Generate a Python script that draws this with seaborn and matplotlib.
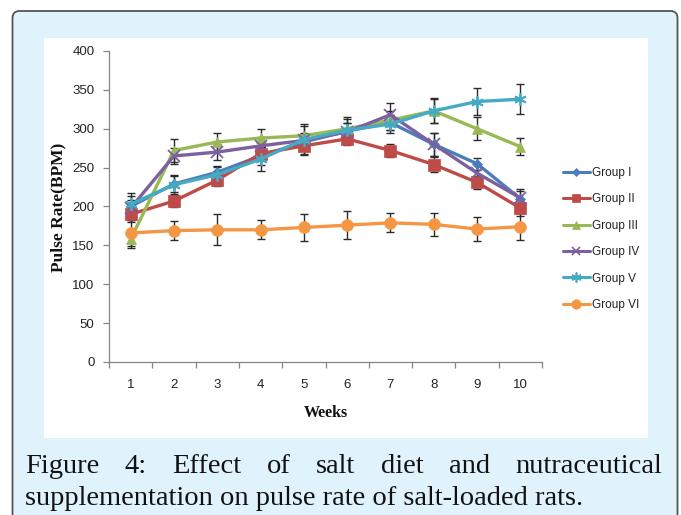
import matplotlib
matplotlib.use("Agg")
import matplotlib.pyplot as plt
import matplotlib.transforms as mtrans
from matplotlib.patches import FancyBboxPatch, Rectangle
from matplotlib.lines import Line2D
import seaborn as sns
import pandas as pd

# ---------------- data ----------------
weeks = [1, 2, 3, 4, 5, 6, 7, 8, 9, 10]
group_names = ["Group I", "Group II", "Group III", "Group IV", "Group V", "Group VI"]
group_1 = [200, 229, 244, 265, 283, 297, 308, 280, 255, 210]
group_2 = [190, 207, 234, 268, 278, 287, 272, 254, 231, 198]
group_3 = [158, 272, 283, 288, 291, 300, 311, 323, 300, 277]
group_4 = [198, 265, 270, 278, 285, 296, 318, 280, 243, 211]
group_5 = [203, 228, 241, 261, 286, 298, 306, 323, 335, 338]
group_6 = [166, 169, 170, 170, 173, 176, 179, 177, 171, 174]
err_1 = [8, 10, 8, 12, 10, 10, 10, 15, 8, 10]
err_2 = [10, 8, 8, 10, 10, 8, 8, 10, 8, 10]
err_3 = [11, 15, 12, 12, 12, 15, 12, 16, 15, 11]
err_4 = [15, 10, 10, 12, 10, 12, 15, 15, 12, 12]
err_5 = [15, 12, 10, 15, 20, 15, 12, 15, 17, 19]
err_6 = [17, 12, 20, 12, 17, 18, 12, 15, 16, 17]
x_label = "Weeks"
y_label = "Pulse Rate(BPM)"
caption_line1 = "Figure 4: Effect of salt diet and nutraceutical"
caption_line2 = "supplementation on pulse rate of salt-loaded rats."

values = [group_1, group_2, group_3, group_4, group_5, group_6]
errors = [err_1, err_2, err_3, err_4, err_5, err_6]
rows = []
for name, vals, errs in zip(group_names, values, errors):
    for w, v, e in zip(weeks, vals, errs):
        rows.append({"week": w, "rate": v, "err": e, "group": name})
df = pd.DataFrame(rows)

# ---------------- style ----------------
sns.set_theme(style="white")
plt.rcParams["font.family"] = ["Liberation Sans Narrow", "Liberation Sans", "DejaVu Sans"]

colors = {"Group I": "#4A7EBB", "Group II": "#BE4B48", "Group III": "#98B954",
          "Group IV": "#7D60A0", "Group V": "#46AAC5", "Group VI": "#F59645"}
markers = {"Group I": "D", "Group II": "s", "Group III": "^",
           "Group IV": "x", "Group V": (6, 2, 0), "Group VI": "o"}
msizes = {"Group I": 5.5, "Group II": 8, "Group III": 7.5,
          "Group IV": 8, "Group V": 9, "Group VI": 8.5}

W, H = 681, 515
fig = plt.figure(figsize=(W / 100, H / 100), dpi=100)
fig.patch.set_facecolor("white")
ident = mtrans.IdentityTransform()

outer = FancyBboxPatch((12.5, -30), 665, 504 + 30, boxstyle="round,pad=0,rounding_size=7",
                       facecolor="#E0F2FC", edgecolor="#555555", linewidth=1.3,
                       transform=ident, zorder=0)
fig.patches.append(outer)
panel = Rectangle((44, H - 438), 604, 400, facecolor="white", edgecolor="none",
                  transform=ident, zorder=0.5)
fig.patches.append(panel)

ax = fig.add_axes([109 / W, 1 - 362 / H, 433 / W, 311 / H])
ax.set_zorder(3)
ax.set_facecolor("none")

for name in group_names:
    sub = df[df["group"] == name]
    ax.errorbar(sub["week"], sub["rate"], yerr=sub["err"], fmt="none",
                ecolor="#2b2b2b", elinewidth=1.0, capsize=3, capthick=1.0, zorder=2)
for name in group_names:
    sub = df[df["group"] == name]
    c = colors[name]
    mew = 1.3 if name in ("Group IV", "Group V") else 0.5
    sns.lineplot(data=sub, x="week", y="rate", ax=ax, color=c, linewidth=2.4,
                 marker=markers[name], markersize=msizes[name],
                 markeredgecolor=c, markeredgewidth=mew, markerfacecolor=c,
                 errorbar=None, legend=False, zorder=3)

ax.set_xlim(0.5, 10.5)
ax.set_ylim(0, 400)
ax.set_yticks(range(0, 401, 50))
ax.set_xticks(weeks)
ax.set_xticks([w + 0.5 for w in [0] + weeks], minor=True)
ax.set_xlabel("")
ax.set_ylabel("")
for s in ["top", "right"]:
    ax.spines[s].set_visible(False)
for s in ["left", "bottom"]:
    ax.spines[s].set_color("#868686")
    ax.spines[s].set_linewidth(0.9)
ax.tick_params(axis="y", direction="out", length=4, width=0.9, color="#868686",
               pad=6.5, labelsize=9.5, labelcolor="#222222", left=True)
ax.tick_params(axis="x", which="major", length=0, pad=12, labelsize=9.5, labelcolor="#222222")
ax.tick_params(axis="x", which="minor", direction="out", length=4, width=0.9,
               color="#868686", bottom=True)

fig.text(58 / W, 1 - 207 / H, y_label, rotation=90, ha="center", va="center",
         fontsize=12.5, fontweight="bold", family=["Liberation Serif", "DejaVu Serif"], color="#111111")
fig.text(325.5 / W, 1 - 413 / H, x_label, ha="center", va="center",
         fontsize=11.5, fontweight="bold", family=["Liberation Serif", "DejaVu Serif"], color="#111111")

handles = [Line2D([0], [0], color=colors[n], lw=2.2, marker=markers[n],
                  markersize=msizes[n] * 0.8, markeredgecolor=colors[n],
                  markeredgewidth=1.2 if n in ("Group IV", "Group V") else 0.5)
           for n in group_names]
fig.legend(handles, group_names, loc="upper left", bbox_to_anchor=(562.7 / W, 1 - 167 / H),
           frameon=False, fontsize=8.5, labelspacing=1.22, handlelength=2.3,
           handletextpad=0.2, borderpad=0, borderaxespad=0, labelcolor="#222222")

# ---------------- caption ----------------
renderer = fig.canvas.get_renderer()
cap_family = ["Liberation Serif", "DejaVu Serif"]
probe = fig.text(0, 0, caption_line2, fontsize=10, family=cap_family)
w10 = probe.get_window_extent(renderer).width
probe.remove()
cap_size = 10 * 559 / w10
fig.text(25 / W, 1 - 505 / H, caption_line2, fontsize=cap_size, family=cap_family,
         ha="left", va="baseline", color="#111111")
words = caption_line1.split()
widths = []
for wd in words:
    t = fig.text(0, 0, wd, fontsize=cap_size, family=cap_family)
    widths.append(t.get_window_extent(renderer).width)
    t.remove()
gap = (662 - 25 - sum(widths)) / (len(words) - 1)
xpos = 25
for wd, wdt in zip(words, widths):
    fig.text(xpos / W, 1 - 473 / H, wd, fontsize=cap_size, family=cap_family,
             ha="left", va="baseline", color="#111111")
    xpos += wdt + gap

fig.savefig("out.png", dpi=100)
